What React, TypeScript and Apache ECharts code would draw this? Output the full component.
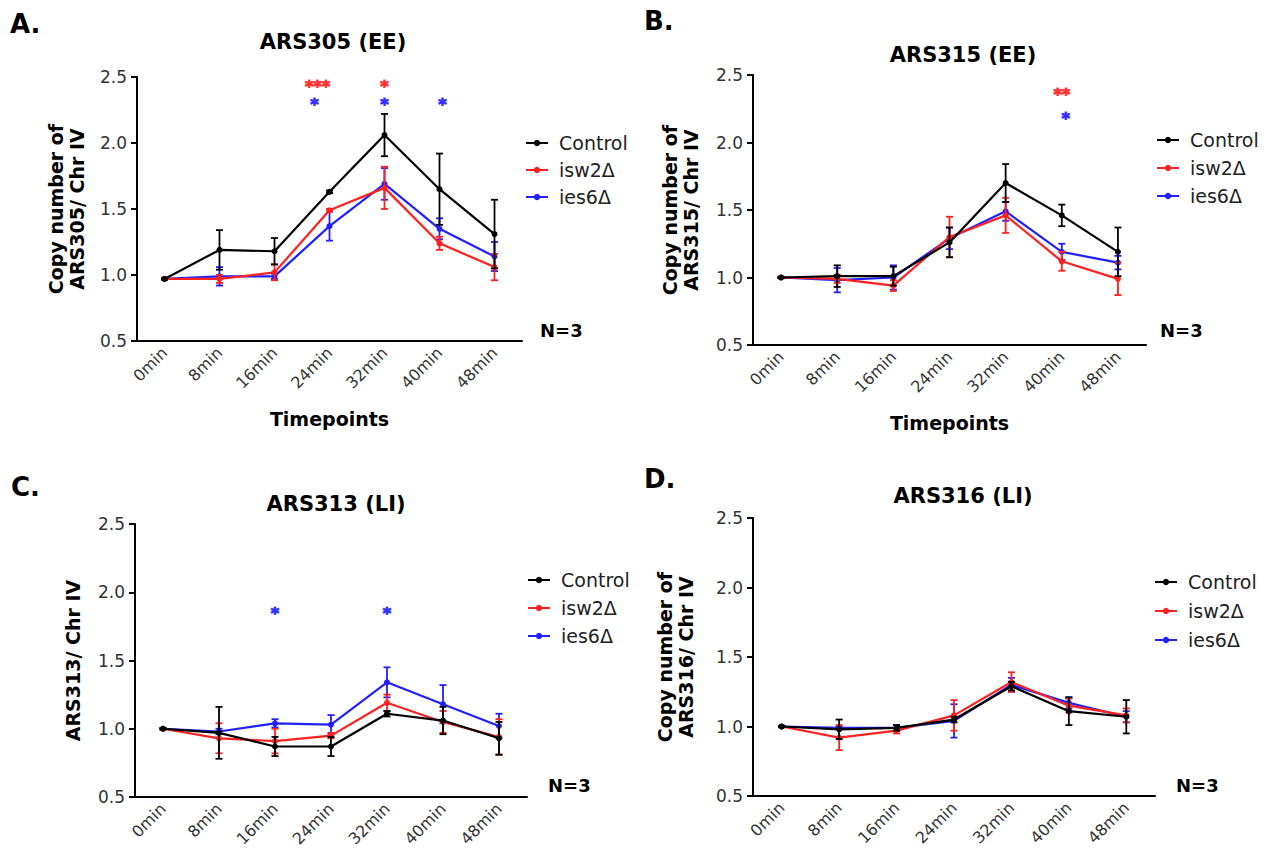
import React, { useEffect, useRef } from 'react';
import * as echarts from 'echarts';

const categories = ['0min', '8min', '16min', '24min', '32min', '40min', '48min'];
const seriesNames = ['Control', 'isw2Δ', 'ies6Δ'];
const seriesColors = ['#000000', '#ff2020', '#2020ff'];

// Panel A: ARS305 (EE)
const controlA = [0.97, 1.19, 1.18, 1.63, 2.06, 1.65, 1.31];
const controlAErr = [0.005, 0.15, 0.1, 0.01, 0.16, 0.27, 0.26];
const isw2A = [0.97, 0.97, 1.02, 1.49, 1.66, 1.24, 1.06];
const isw2AErr = [0.005, 0.03, 0.06, 0.01, 0.16, 0.05, 0.1];
const ies6A = [0.97, 0.99, 0.99, 1.37, 1.69, 1.35, 1.14];
const ies6AErr = [0.005, 0.07, 0.02, 0.11, 0.12, 0.08, 0.11];

// Panel B: ARS315 (EE)
const controlB = [1.0, 1.01, 1.01, 1.26, 1.7, 1.46, 1.19];
const controlBErr = [0.005, 0.08, 0.07, 0.11, 0.14, 0.08, 0.18];
const isw2B = [1.0, 0.99, 0.94, 1.3, 1.46, 1.12, 0.99];
const isw2BErr = [0.005, 0.03, 0.04, 0.15, 0.13, 0.07, 0.12];
const ies6B = [1.0, 0.98, 1.0, 1.29, 1.49, 1.19, 1.11];
const ies6BErr = [0.005, 0.09, 0.09, 0.08, 0.07, 0.06, 0.05];

// Panel C: ARS313 (LI)
const controlC = [1.0, 0.97, 0.87, 0.87, 1.11, 1.06, 0.93];
const controlCErr = [0.005, 0.19, 0.07, 0.07, 0.02, 0.1, 0.12];
const isw2C = [1.0, 0.93, 0.91, 0.95, 1.19, 1.05, 0.94];
const isw2CErr = [0.005, 0.11, 0.09, 0.02, 0.06, 0.08, 0.13];
const ies6C = [1.0, 0.98, 1.04, 1.03, 1.34, 1.18, 1.02];
const ies6CErr = [0.005, 0.02, 0.03, 0.07, 0.11, 0.14, 0.09];

// Panel D: ARS316 (LI)
const controlD = [1.0, 0.98, 0.99, 1.05, 1.29, 1.11, 1.07];
const controlDErr = [0.005, 0.07, 0.02, 0.02, 0.03, 0.1, 0.12];
const isw2D = [1.0, 0.92, 0.97, 1.08, 1.32, 1.15, 1.08];
const isw2DErr = [0.005, 0.09, 0.02, 0.11, 0.07, 0.05, 0.05];
const ies6D = [1.0, 0.99, 0.99, 1.04, 1.3, 1.17, 1.07];
const ies6DErr = [0.005, 0.01, 0.02, 0.12, 0.05, 0.04, 0.04];

// Significance marks: [category, value, text, series]
const starsA: [string, number, string, string][] = [
  ['24min', 2.455, '***', 'isw2Δ'],
  ['32min', 2.455, '*', 'isw2Δ'],
  ['24min', 2.32, '*', 'ies6Δ'],
  ['32min', 2.32, '*', 'ies6Δ'],
  ['40min', 2.32, '*', 'ies6Δ'],
];
const starsB: [string, number, string, string][] = [
  ['40min', 2.385, '**', 'isw2Δ'],
  ['40min', 2.21, '*', 'ies6Δ'],
];
const starsC: [string, number, string, string][] = [
  ['16min', 1.87, '*', 'ies6Δ'],
  ['32min', 1.87, '*', 'ies6Δ'],
];
const starsD: [string, number, string, string][] = [];

const FONT = 'DejaVu Sans';

const panels = [
  {
    letter: 'A.', title: 'ARS305 (EE)', yName: 'Copy number of\nARS305/ Chr IV', xName: 'Timepoints',
    means: [controlA, isw2A, ies6A], errs: [controlAErr, isw2AErr, ies6AErr], stars: starsA,
    grid: { left: 137, top: 77, width: 385, height: 264 }, yGap: 50,
    legend: { left: 525, top: 133, gap: 7 }, titlePos: [333, 42], letterPos: [10, 24], nPos: [540, 330],
    starShift: { '24min|isw2Δ': -12, '24min|ies6Δ': -15, '40min|ies6Δ': 3 } as Record<string, number>,
  },
  {
    letter: 'B.', title: 'ARS315 (EE)', yName: 'Copy number of\nARS315/ Chr IV', xName: 'Timepoints',
    means: [controlB, isw2B, ies6B], errs: [controlBErr, isw2BErr, ies6BErr], stars: starsB,
    grid: { left: 753, top: 75, width: 393, height: 270 }, yGap: 52,
    legend: { left: 1156, top: 130, gap: 8 }, titlePos: [963, 55], letterPos: [644, 21], nPos: [1160, 330],
    starShift: { '40min|ies6Δ': 4 } as Record<string, number>,
  },
  {
    letter: 'C.', title: 'ARS313 (LI)', yName: 'ARS313/ Chr IV', xName: '',
    means: [controlC, isw2C, ies6C], errs: [controlCErr, isw2CErr, ies6CErr], stars: starsC,
    grid: { left: 135, top: 524, width: 392, height: 273 }, yGap: 52,
    legend: { left: 527, top: 570, gap: 8 }, titlePos: [336, 504], letterPos: [11, 487], nPos: [548, 785],
    starShift: {} as Record<string, number>,
  },
  {
    letter: 'D.', title: 'ARS316 (LI)', yName: 'Copy number of\nARS316/ Chr IV', xName: '',
    means: [controlD, isw2D, ies6D], errs: [controlDErr, isw2DErr, ies6DErr], stars: starsD,
    grid: { left: 753, top: 518, width: 402, height: 278 }, yGap: 57,
    legend: { left: 1154, top: 572, gap: 9 }, titlePos: [963, 496], letterPos: [644, 479], nPos: [1176, 785],
    starShift: {} as Record<string, number>,
  },
];

function errorRenderer(color: string) {
  return (_params: any, api: any) => {
    const xi = api.value(0);
    const m = api.value(1);
    const e = api.value(2);
    const top = api.coord([xi, m + e]);
    const bot = api.coord([xi, m - e]);
    const cw = 3.5;
    const style = { stroke: color, lineWidth: 1.8 };
    return {
      type: 'group',
      children: [
        { type: 'line', shape: { x1: top[0], y1: top[1], x2: bot[0], y2: bot[1] }, style },
        { type: 'line', shape: { x1: top[0] - cw, y1: top[1], x2: top[0] + cw, y2: top[1] }, style },
        { type: 'line', shape: { x1: bot[0] - cw, y1: bot[1], x2: bot[0] + cw, y2: bot[1] }, style },
      ],
    };
  };
}

function buildOption() {
  const grid: any[] = [];
  const xAxis: any[] = [];
  const yAxis: any[] = [];
  const legend: any[] = [];
  const series: any[] = [];
  const graphic: any[] = [];

  panels.forEach((p, i) => {
    grid.push({ ...p.grid, containLabel: false });
    xAxis.push({
      type: 'category',
      gridIndex: i,
      data: categories,
      boundaryGap: true,
      axisLine: { lineStyle: { color: '#000', width: 2 } },
      axisTick: { alignWithLabel: true, length: 7, lineStyle: { color: '#000', width: 2 } },
      axisLabel: { rotate: 45, fontSize: 16, color: '#333', margin: 9, fontFamily: FONT },
      name: p.xName,
      nameLocation: 'middle',
      nameGap: 68,
      nameTextStyle: { fontSize: 19, fontWeight: 'bold', color: '#000', fontFamily: FONT },
    });
    yAxis.push({
      type: 'value',
      gridIndex: i,
      min: 0.5,
      max: 2.5,
      interval: 0.5,
      splitLine: { show: false },
      axisLine: { show: true, lineStyle: { color: '#000', width: 2 } },
      axisTick: { show: true, length: 6, lineStyle: { color: '#000', width: 2 } },
      axisLabel: { formatter: (v: number) => v.toFixed(1), fontSize: 17, color: '#333', margin: 10, fontFamily: FONT },
      name: p.yName,
      nameLocation: 'middle',
      nameRotate: 90,
      nameGap: p.yGap,
      nameTextStyle: { fontSize: 19, fontWeight: 'bold', color: '#000', lineHeight: 21, fontFamily: FONT },
    });
    legend.push({
      data: seriesNames,
      orient: 'vertical',
      left: p.legend.left,
      top: p.legend.top,
      padding: 0,
      itemGap: p.legend.gap,
      itemWidth: 22,
      itemHeight: 8,
      selectedMode: false,
      textStyle: { fontSize: 19, color: '#222', lineHeight: 20, padding: [0, 0, 0, 6], fontFamily: FONT },
    });

    // draw order: ies6, isw2, Control (Control on top)
    [2, 1, 0].forEach((s) => {
      const color = seriesColors[s];
      series.push({
        type: 'custom',
        name: seriesNames[s] + ' SD',
        xAxisIndex: i,
        yAxisIndex: i,
        data: p.means[s].map((m, k) => [k, m, p.errs[s][k]]),
        encode: { x: 0, y: 1 },
        renderItem: errorRenderer(color),
        z: 2 + (2 - s),
        silent: true,
      });
      series.push({
        type: 'line',
        name: seriesNames[s],
        xAxisIndex: i,
        yAxisIndex: i,
        data: p.means[s],
        symbol: 'circle',
        symbolSize: 6,
        showSymbol: true,
        itemStyle: { color },
        lineStyle: { color, width: 2.2 },
        z: 2 + (2 - s),
        silent: true,
      });
    });

    if (p.stars.length) {
      series.push({
        type: 'scatter',
        name: 'stars' + i,
        xAxisIndex: i,
        yAxisIndex: i,
        symbolSize: 1,
        itemStyle: { color: 'rgba(0,0,0,0)' },
        silent: true,
        z: 10,
        data: p.stars.map(([cat, val, txt, sName]) => {
          const c = seriesColors[seriesNames.indexOf(sName)];
          return {
            value: [cat, val],
            label: {
              show: true,
              position: 'inside',
              formatter: txt,
              color: c,
              fontSize: 16,
              fontWeight: 'bold',
              lineHeight: 12,
              textBorderColor: c,
              textBorderWidth: 1.2,
              fontFamily: FONT,
              offset: [p.starShift[cat + '|' + sName] || 0, 4],
            },
          };
        }),
      });
    }

    graphic.push({
      type: 'text', x: p.letterPos[0], y: p.letterPos[1],
      style: { text: p.letter, fill: '#000', fontSize: 26, fontWeight: 'bold', fontFamily: FONT, textAlign: 'left', textVerticalAlign: 'middle' },
    });
    graphic.push({
      type: 'text', x: p.titlePos[0], y: p.titlePos[1],
      style: { text: p.title, fill: '#000', fontSize: 21, fontWeight: 'bold', fontFamily: FONT, textAlign: 'center', textVerticalAlign: 'middle' },
    });
    graphic.push({
      type: 'text', x: p.nPos[0], y: p.nPos[1],
      style: { text: 'N=3', fill: '#000', fontSize: 18, fontWeight: 'bold', fontFamily: FONT, textAlign: 'left', textVerticalAlign: 'middle' },
    });
  });

  return {
    animation: false,
    backgroundColor: '#ffffff',
    textStyle: { fontFamily: FONT },
    grid,
    xAxis,
    yAxis,
    legend,
    series,
    graphic,
  };
}

export default function App() {
  const ref = useRef<HTMLDivElement>(null);
  useEffect(() => {
    if (!ref.current) return;
    const chart = echarts.init(ref.current, undefined, { renderer: 'svg' });
    chart.setOption(buildOption() as any);
    return () => chart.dispose();
  }, []);
  return (
    <div
      ref={ref}
      style={{ position: 'absolute', left: 0, top: 0, width: 1270, height: 856, background: '#fff' }}
    />
  );
}
